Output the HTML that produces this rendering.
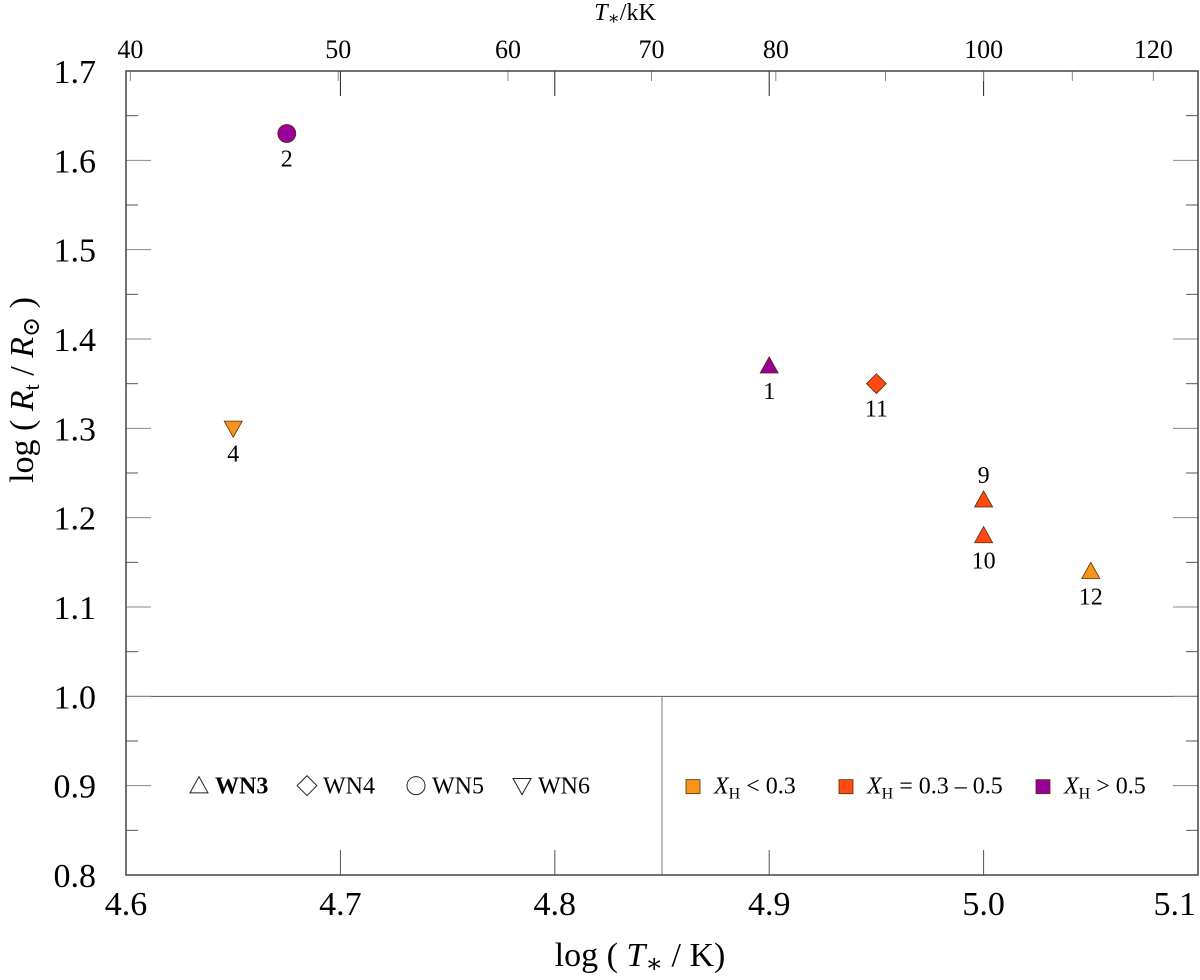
<!DOCTYPE html>
<html><head><meta charset="utf-8"><style>
body{margin:0;background:#fff}
svg text{font-family:"Liberation Serif","DejaVu Serif",serif;fill:#000}
</style></head><body>
<svg id="c" width="1200" height="975" xmlns="http://www.w3.org/2000/svg"></svg>
<script>
const xTicks=[4.6,4.7,4.8,4.9,5.0,5.1];
const xTickLabels=["4.6","4.7","4.8","4.9","5.0","5.1"];
const yTicks=[0.8,0.9,1.0,1.1,1.2,1.3,1.4,1.5,1.6,1.7];
const yTickLabels=["0.8","0.9","1.0","1.1","1.2","1.3","1.4","1.5","1.6","1.7"];
const topTicks=[40,50,60,70,80,100,120];
const topMinor=[90,110];
const starIds=["1","2","4","9","10","11","12"];
const starLogT=[4.9,4.675,4.65,5.0,5.0,4.95,5.05];
const starLogR=[1.37,1.63,1.30,1.22,1.18,1.35,1.14];
const starType=["WN3","WN5","WN6","WN3","WN3","WN4","WN3"];
const starXH=["high","high","low","mid","mid","mid","low"];
const labelAbove=[false,false,false,true,false,false,false];

const L=126,R=1198,T=71,B=875;
const X=v=>L+(v-4.6)/0.5*(R-L);
const Y=v=>B-(v-0.8)/0.9*(B-T);
const colors={low:"#f7941d",mid:"#ff4a12",high:"#990099"};
const svg=document.getElementById('c');
const NS="http://www.w3.org/2000/svg";
function el(tag,attrs,parent){const e=document.createElementNS(NS,tag);for(const k in attrs)e.setAttribute(k,attrs[k]);(parent||svg).appendChild(e);return e;}
function txt(x,y,s,size,anchor,name){const t=el('text',{x:x,y:y,'font-size':size,'text-anchor':anchor||'middle'});t.innerHTML=s;return t;}
function marker(type,cx,cy,s,fill,stroke,sw){
  if(type==="WN3")return el('polygon',{points:`${cx-s},${cy+s*0.8} ${cx+s},${cy+s*0.8} ${cx},${cy-s}`,fill:fill,stroke:stroke,'stroke-width':sw});
  if(type==="WN6")return el('polygon',{points:`${cx-s},${cy-s*0.8} ${cx+s},${cy-s*0.8} ${cx},${cy+s}`,fill:fill,stroke:stroke,'stroke-width':sw});
  if(type==="WN4")return el('polygon',{points:`${cx},${cy-s*1.1} ${cx+s*1.1},${cy} ${cx},${cy+s*1.1} ${cx-s*1.1},${cy}`,fill:fill,stroke:stroke,'stroke-width':sw});
  return el('circle',{cx:cx,cy:cy,r:s,fill:fill,stroke:stroke,'stroke-width':sw});
}
let e=el('line',{x1:L,y1:Y(1.0),x2:R,y2:Y(1.0),stroke:'#555','stroke-width':1});

e=el('line',{x1:662,y1:Y(1.0),x2:662,y2:B,stroke:'#777','stroke-width':1});

xTicks.forEach((v,i)=>{const x=X(v);
  if(i>0&&i<xTicks.length-1){
    let t=el('line',{x1:x,y1:B,x2:x,y2:B-25,stroke:'#555'});
    t=el('line',{x1:x,y1:T,x2:x,y2:T+25,stroke:'#222'});}
  const last=i===xTicks.length-1;
  txt(last?x-2:x,B+40,xTickLabels[i],34,last?'end':'middle','x-tick-label');
});
topTicks.concat(topMinor).forEach((k,i)=>{const x=X(Math.log10(k*1000));
  const t=el('line',{x1:x,y1:T,x2:x,y2:T+10,stroke:'#888'});
  if(i<topTicks.length)txt(x,58,String(k),26,'middle','top-tick-label');});
yTicks.forEach((v,i)=>{const y=Y(v);
  if(i>0&&i<yTicks.length-1){
    let t=el('line',{x1:L,y1:y,x2:L+25,y2:y,stroke:'#888'});
    t=el('line',{x1:R,y1:y,x2:R-25,y2:y,stroke:'#888'});}
  if(i<yTicks.length-1){const ym=Y(v+0.05);
    let t=el('line',{x1:L,y1:ym,x2:L+12,y2:ym,stroke:'#555'});
    t=el('line',{x1:R,y1:ym,x2:R-12,y2:ym,stroke:'#555'});}
  txt(96,y+12,yTickLabels[i],34,'end','y-tick-label');
});
e=el('rect',{x:L,y:T,width:R-L,height:B-T,fill:'none',stroke:'#444','stroke-width':1.5});

txt(640,966,'log ( <tspan font-style="italic">T</tspan><tspan font-size="26" dy="6">∗</tspan><tspan dy="-6"> / K)</tspan>',34,'middle','x-axis-title');
txt(625,20,'<tspan font-style="italic">T</tspan><tspan font-size="18" dy="4">∗</tspan><tspan dy="-4">/kK</tspan>',24,'middle','top-axis-title');
const yt=txt(0,0,'log ( <tspan font-style="italic">R</tspan><tspan font-size="22" dy="6">t</tspan><tspan dy="-6"> / </tspan><tspan font-style="italic">R</tspan><tspan font-size="24" dy="6">⊙</tspan><tspan dy="-6"> )</tspan>',34,'middle','y-axis-title');
yt.setAttribute('transform','translate(33,390) rotate(-90)');
starIds.forEach((id,i)=>{const cx=X(starLogT[i]),cy=Y(starLogR[i]);
  const m=marker(starType[i],cx,cy,9,colors[starXH[i]],'#5a2a00',0.8);
  
  txt(cx,labelAbove[i]?cy-17:cy+33,id,24,'middle','star-label-'+id);
});
const legTypes=["WN3","WN4","WN5","WN6"],legTX=[199,307,416,522];
legTypes.forEach((t,i)=>{const m=marker(t,legTX[i],Y(0.9),9,'none','#222',1);
  
  const lt=txt(legTX[i]+16,Y(0.9)+8,t,24,'start','legend-label-'+t.toLowerCase());
  if(i===0)lt.setAttribute('font-weight','bold');});
const legC=["low","mid","high"],legCX=[693,846,1043];
const legCL=['<tspan font-style="italic">X</tspan><tspan font-size="16" dy="5">H</tspan><tspan dy="-5"> &lt; 0.3</tspan>',
 '<tspan font-style="italic">X</tspan><tspan font-size="16" dy="5">H</tspan><tspan dy="-5"> = 0.3 – 0.5</tspan>',
 '<tspan font-style="italic">X</tspan><tspan font-size="16" dy="5">H</tspan><tspan dy="-5"> &gt; 0.5</tspan>'];
legC.forEach((c,i)=>{const r=el('rect',{x:legCX[i]-7,y:Y(0.9)-6,width:14,height:14,fill:colors[c],stroke:'#5a2a00','stroke-width':0.8});
  
  txt(legCX[i]+21,Y(0.9)+8,legCL[i],24,'start','legend-label-xh-'+c);});
</script>
</body></html>
